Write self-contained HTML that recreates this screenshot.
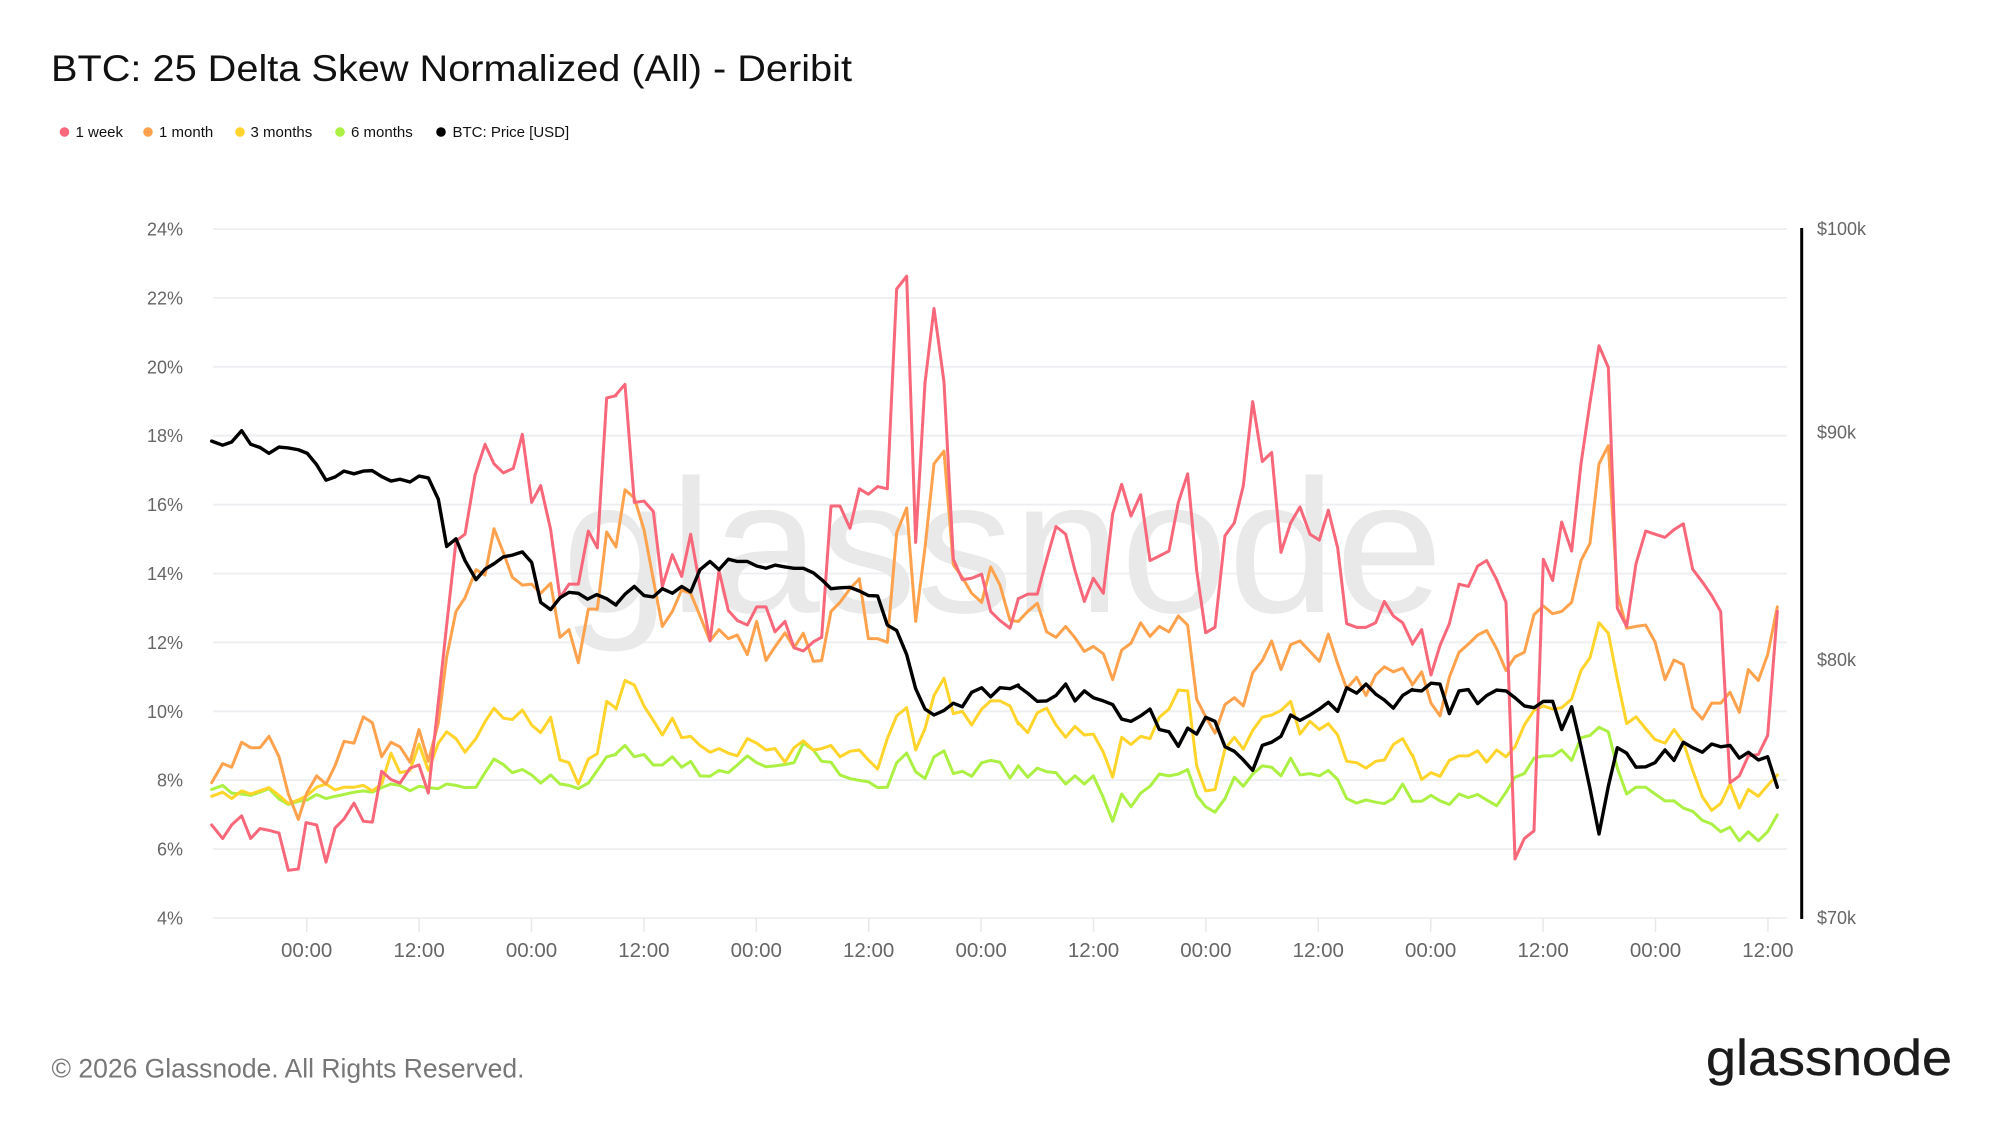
<!DOCTYPE html>
<html><head><meta charset="utf-8"><style>
html,body{margin:0;padding:0;background:#fff;width:2000px;height:1125px;overflow:hidden}
svg{display:block}
text{font-family:"Liberation Sans",Arial,sans-serif}
.s{fill:none;stroke-linejoin:round;stroke-linecap:round}
.r{stroke:#f8677a;stroke-width:3}
.o{stroke:#ffa24d;stroke-width:3}
.y{stroke:#ffd42b;stroke-width:3}
.g{stroke:#abf043;stroke-width:3}
.k{stroke:#000;stroke-width:3.4}
</style></head><body>
<svg width="2000" height="1125" viewBox="0 0 2000 1125" xmlns="http://www.w3.org/2000/svg">
<text x="51" y="81" font-size="37" fill="#111" textLength="801" lengthAdjust="spacingAndGlyphs">BTC: 25 Delta Skew Normalized (All) - Deribit</text>
<g font-size="15" fill="#111">
<circle cx="64.5" cy="132" r="4.8" fill="#f8677a"/><text x="75.5" y="137">1 week</text>
<circle cx="148" cy="132" r="4.8" fill="#ffa24d"/><text x="159" y="137">1 month</text>
<circle cx="240" cy="132" r="4.8" fill="#ffd42b"/><text x="250.5" y="137">3 months</text>
<circle cx="340" cy="132" r="4.8" fill="#abf043"/><text x="351" y="137">6 months</text>
<circle cx="441" cy="132" r="4.8" fill="#000"/><text x="452.5" y="137">BTC: Price [USD]</text>
</g>
<g stroke="#eceef1" stroke-width="1.8">
<line x1="213" x2="1787" y1="229" y2="229"/><line x1="213" x2="1787" y1="297.9" y2="297.9"/><line x1="213" x2="1787" y1="366.8" y2="366.8"/><line x1="213" x2="1787" y1="435.7" y2="435.7"/><line x1="213" x2="1787" y1="504.6" y2="504.6"/><line x1="213" x2="1787" y1="573.5" y2="573.5"/><line x1="213" x2="1787" y1="642.4" y2="642.4"/><line x1="213" x2="1787" y1="711.3" y2="711.3"/><line x1="213" x2="1787" y1="780.2" y2="780.2"/><line x1="213" x2="1787" y1="849.1" y2="849.1"/><line x1="213" x2="1787" y1="918" y2="918"/>
</g>
<g stroke="#e6e8eb" stroke-width="1.5">
<line x1="306.7" x2="306.7" y1="918" y2="932"/><line x1="419.1" x2="419.1" y1="918" y2="932"/><line x1="531.5" x2="531.5" y1="918" y2="932"/><line x1="643.9" x2="643.9" y1="918" y2="932"/><line x1="756.3" x2="756.3" y1="918" y2="932"/><line x1="868.7" x2="868.7" y1="918" y2="932"/><line x1="981.1" x2="981.1" y1="918" y2="932"/><line x1="1093.5" x2="1093.5" y1="918" y2="932"/><line x1="1205.9" x2="1205.9" y1="918" y2="932"/><line x1="1318.3" x2="1318.3" y1="918" y2="932"/><line x1="1430.7" x2="1430.7" y1="918" y2="932"/><line x1="1543.1" x2="1543.1" y1="918" y2="932"/><line x1="1655.5" x2="1655.5" y1="918" y2="932"/><line x1="1767.9" x2="1767.9" y1="918" y2="932"/>
</g>
<g font-size="18" fill="#666" text-anchor="end">
<text x="183" y="235.5">24%</text><text x="183" y="304.4">22%</text><text x="183" y="373.3">20%</text><text x="183" y="442.2">18%</text><text x="183" y="511.1">16%</text><text x="183" y="580">14%</text><text x="183" y="648.9">12%</text><text x="183" y="717.8">10%</text><text x="183" y="786.7">8%</text><text x="183" y="855.6">6%</text><text x="183" y="924.5">4%</text>
</g>
<g font-size="20.5" fill="#666" text-anchor="middle">
<text x="306.7" y="957">00:00</text><text x="419.1" y="957">12:00</text><text x="531.5" y="957">00:00</text><text x="643.9" y="957">12:00</text><text x="756.3" y="957">00:00</text><text x="868.7" y="957">12:00</text><text x="981.1" y="957">00:00</text><text x="1093.5" y="957">12:00</text><text x="1205.9" y="957">00:00</text><text x="1318.3" y="957">12:00</text><text x="1430.7" y="957">00:00</text><text x="1543.1" y="957">12:00</text><text x="1655.5" y="957">00:00</text><text x="1767.9" y="957">12:00</text>
</g>
<line x1="1801.7" x2="1801.7" y1="228" y2="919" stroke="#000" stroke-width="3"/>
<g font-size="18" fill="#666">
<text x="1817" y="235">$100k</text><text x="1817" y="438.5">$90k</text><text x="1817" y="666">$80k</text><text x="1817" y="924">$70k</text>
</g>
<text x="562" y="612" font-size="190" fill="#e9e9e9" textLength="881" lengthAdjust="spacingAndGlyphs">glassnode</text>

<g class="s g">
<polyline vector-effect="non-scaling-stroke" transform="translate(200,220.82) scale(0.333333,0.4542)" points="35,1252 68,1243 95,1260 125,1262 152,1265 180,1258 207,1250 237,1273 265,1285 295,1278 322,1275 350,1263 378,1272 405,1267 432,1263 462,1258 490,1255 517,1258 545,1248 573,1240 600,1243 630,1255 657,1245 685,1248 715,1250 740,1240 768,1243 795,1248 828,1247 855,1215 882,1185 910,1197 937,1215 967,1208 995,1220 1022,1238 1052,1220 1080,1240 1107,1243 1135,1250 1165,1238 1192,1210 1220,1180 1248,1175"/>
<polyline vector-effect="non-scaling-stroke" transform="translate(600,220.82) scale(0.333333,0.4542)" points="48,1173 75,1155 103,1180 132,1175 160,1198 187,1198 217,1180 245,1203 272,1190 300,1222 330,1223 357,1210 385,1215 412,1198 442,1178 470,1193 498,1202 525,1200 555,1197 582,1193 610,1150 640,1165 665,1190 693,1192 720,1220 750,1228 778,1232 805,1235 833,1248 862,1247 890,1193 920,1172 947,1213 975,1228 1002,1180 1032,1167 1060,1217 1087,1212 1115,1223 1145,1193 1172,1188 1200,1192 1230,1227 1255,1200"/>
<polyline vector-effect="non-scaling-stroke" transform="translate(1000,220.82) scale(0.333333,0.4542)" points="55,1200 83,1225 112,1205 140,1213 168,1215 197,1240 225,1222 253,1240 280,1222 310,1270 338,1322 365,1262 393,1290 422,1260 450,1245 478,1218 507,1222 535,1218 563,1208 590,1265 617,1290 645,1302 675,1272 703,1225 730,1245 758,1218 787,1200 815,1203 843,1222 872,1183 900,1220 930,1217 958,1222 985,1210 1013,1230 1040,1272 1070,1282 1098,1275 1127,1280 1153,1283 1180,1272 1208,1240 1237,1278"/>
<polyline vector-effect="non-scaling-stroke" transform="translate(1400,220.82) scale(0.333333,0.4542)" points="37,1278 65,1278 93,1265 120,1277 148,1285 177,1262 205,1270 233,1263 260,1275 290,1288 318,1258 345,1225 373,1217 402,1183 430,1178 458,1178 485,1165 515,1188 543,1138 570,1133 597,1115 625,1125 652,1205 680,1262 708,1247 737,1247 765,1262 795,1277 822,1277 850,1293 878,1300 907,1320 935,1328 962,1345 990,1335 1018,1365 1045,1345 1075,1365 1103,1345 1132,1308"/>
</g>

<g class="s y">
<polyline vector-effect="non-scaling-stroke" transform="translate(200,220.82) scale(0.333333,0.4542)" points="35,1267 68,1258 95,1272 125,1255 152,1262 180,1255 207,1248 237,1265 265,1283 295,1275 322,1265 350,1247 378,1240 405,1253 432,1247 462,1247 490,1243 517,1255 545,1240 573,1172 600,1215 630,1210 657,1152 685,1210 715,1150 740,1125 768,1140 795,1170 828,1140 855,1103 882,1073 910,1095 937,1098 967,1077 995,1110 1022,1127 1052,1093 1080,1187 1107,1193 1135,1240 1165,1185 1192,1173 1220,1058 1248,1073"/>
<polyline vector-effect="non-scaling-stroke" transform="translate(600,220.82) scale(0.333333,0.4542)" points="48,1075 75,1012 103,1022 132,1068 160,1100 187,1132 217,1095 245,1138 272,1135 300,1155 330,1170 357,1162 385,1172 412,1178 442,1140 470,1150 498,1165 525,1162 555,1192 582,1160 610,1145 640,1165 665,1162 693,1155 720,1180 750,1168 778,1165 805,1187 833,1207 862,1140 890,1090 920,1072 947,1165 975,1118 1002,1045 1032,1007 1060,1085 1087,1080 1115,1110 1145,1075 1172,1057 1200,1057 1230,1068 1255,1108"/>
<polyline vector-effect="non-scaling-stroke" transform="translate(1000,220.82) scale(0.333333,0.4542)" points="55,1105 83,1127 112,1083 140,1073 168,1110 197,1137 225,1113 253,1132 280,1130 310,1170 338,1225 365,1137 393,1153 422,1135 450,1140 478,1093 507,1075 535,1033 563,1035 590,1200 617,1255 645,1252 675,1163 703,1137 730,1163 758,1122 787,1093 815,1088 843,1078 872,1058 900,1130 930,1102 958,1120 985,1107 1013,1132 1040,1190 1070,1193 1098,1205 1127,1190 1153,1187 1180,1153 1208,1140 1237,1178"/>
<polyline vector-effect="non-scaling-stroke" transform="translate(1400,220.82) scale(0.333333,0.4542)" points="37,1175 65,1230 93,1215 120,1223 148,1188 177,1178 205,1178 233,1167 260,1192 290,1165 318,1180 345,1158 373,1110 402,1078 430,1068 458,1075 485,1072 515,1053 543,990 570,962 597,885 625,908 652,1010 680,1107 708,1092 737,1118 765,1142 795,1150 822,1120 850,1148 878,1210 907,1268 935,1298 962,1283 990,1240 1018,1293 1045,1252 1075,1267 1103,1243 1132,1220"/>
</g>

<g class="s o">
<polyline vector-effect="non-scaling-stroke" transform="translate(200,220.82) scale(0.333333,0.4542)" points="35,1237 68,1195 95,1203 125,1148 152,1160 180,1160 207,1135 237,1180 265,1262 295,1318 320,1260 350,1222 378,1240 405,1200 432,1146 462,1150 490,1092 517,1105 545,1180 573,1148 600,1158 630,1192 657,1120 685,1190 715,1105 740,960 768,860 795,830 828,768 855,780 882,678 910,730 937,785 967,802 995,800 1022,820 1052,798 1080,917 1107,900 1135,973 1165,855 1192,855 1220,685 1248,718"/>
<polyline vector-effect="non-scaling-stroke" transform="translate(600,220.82) scale(0.333333,0.4542)" points="48,717 75,592 103,610 132,680 160,790 187,893 217,860 245,813 272,820 300,870 330,925 357,900 385,920 412,912 442,955 470,882 498,968 525,938 555,907 582,940 610,908 640,970 665,968 693,860 720,840 750,810 778,788 805,920 833,920 862,928 890,687 920,632 947,882 975,720 1002,535 1032,507 1060,757 1087,785 1115,820 1145,840 1172,762 1200,802 1230,880 1255,882"/>
<polyline vector-effect="non-scaling-stroke" transform="translate(1000,220.82) scale(0.333333,0.4542)" points="55,882 83,860 112,842 140,905 168,917 197,893 225,918 253,948 280,937 310,953 338,1010 365,945 393,930 422,885 450,915 478,893 507,905 535,870 563,890 590,1053 617,1092 645,1128 675,1065 703,1050 730,1068 758,995 787,968 815,925 843,988 872,933 900,925 930,948 958,970 985,910 1013,975 1040,1030 1070,1005 1098,1045 1127,1000 1153,982 1180,993 1208,985 1237,1020"/>
<polyline vector-effect="non-scaling-stroke" transform="translate(1400,220.82) scale(0.333333,0.4542)" points="37,1022 65,993 93,1062 120,1090 148,1005 177,950 205,932 233,912 260,902 290,942 318,990 345,960 373,950 402,867 430,848 458,865 485,860 515,840 543,748 570,710 597,535 625,495 652,820 680,897 708,893 737,890 765,927 795,1010 822,967 850,977 878,1073 907,1097 935,1062 962,1062 990,1038 1018,1082 1045,988 1075,1012 1103,955 1132,850"/>
</g>

<g class="s r">
<polyline vector-effect="non-scaling-stroke" transform="translate(200,220.82) scale(0.333333,0.4542)" points="35,1330 68,1360 95,1330 125,1310 152,1360 180,1338 207,1342 237,1348 265,1430 295,1427 318,1325 350,1330 378,1412 405,1337 432,1317 462,1282 490,1322 517,1324 545,1212 573,1230 600,1238 630,1205 657,1198 685,1260 712,1080 740,890 768,705 795,690 825,560 855,492 882,535 910,555 940,545 967,470 995,620 1022,583 1052,680 1080,830 1107,800 1135,800 1165,683 1192,720 1220,390 1248,385"/>
<polyline vector-effect="non-scaling-stroke" transform="translate(600,220.82) scale(0.333333,0.4542)" points="48,383 75,360 103,620 132,617 160,640 187,805 217,735 245,783 272,690 300,805 330,925 357,770 385,858 412,880 442,890 470,850 498,850 525,905 555,882 582,940 610,947 640,927 665,917 693,628 720,628 750,677 778,590 805,602 833,585 862,590 890,150 920,122 947,708 975,357 1002,193 1032,355 1060,745 1087,790 1115,787 1145,778 1172,860 1200,880 1230,897 1255,832"/>
<polyline vector-effect="non-scaling-stroke" transform="translate(1000,220.82) scale(0.333333,0.4542)" points="55,832 83,822 112,822 140,745 168,673 197,690 225,770 253,838 280,787 310,820 338,645 365,580 393,650 422,603 450,748 478,738 507,727 535,620 563,557 590,770 617,907 645,895 675,693 703,665 730,583 758,398 787,530 815,510 843,730 872,665 900,630 930,690 958,703 985,637 1013,720 1040,887 1070,895 1098,895 1127,885 1153,838 1180,870 1208,885 1237,930"/>
<polyline vector-effect="non-scaling-stroke" transform="translate(1400,220.82) scale(0.333333,0.4542)" points="37,932 65,900 93,1000 120,935 148,887 177,800 205,805 233,760 260,748 290,790 318,840 345,1405 373,1360 402,1343 430,745 458,792 485,663 515,727 543,535 570,400 597,275 625,323 652,853 680,893 708,755 737,683 765,690 795,697 822,680 850,667 878,767 907,795 935,825 962,860 990,1237 1018,1222 1045,1178 1075,1175 1103,1133 1132,860"/>
</g>

<g class="s k">
<polyline vector-effect="non-scaling-stroke" transform="translate(200,220.82) scale(0.333333,0.4542)" points="35,485 68,494 95,487 125,462 152,492 180,499 207,512 237,498 265,500 295,504 322,512 350,537 378,571 405,564 432,551 462,557 490,551 517,550 545,563 573,573 600,569 630,575 657,562 685,566 715,613 740,717 768,700 795,748 828,790 855,767 882,755 910,740 937,736 967,729 995,752 1022,840 1052,856 1080,830 1107,818 1135,820 1163,833 1190,823 1220,832 1248,846"/>
<polyline vector-effect="non-scaling-stroke" transform="translate(600,220.82) scale(0.333333,0.4542)" points="48,845 75,822 103,805 132,825 160,828 187,810 217,820 245,805 272,817 300,768 330,750 357,768 385,745 412,750 442,750 470,760 498,765 525,758 555,762 582,765 610,765 640,775 665,790 693,810 720,808 750,807 778,815 805,825 833,826 862,890 890,902 920,955 947,1030 975,1075 1002,1088 1032,1078 1060,1062 1087,1070 1115,1038 1145,1028 1172,1048 1200,1028 1230,1030 1255,1022"/>
<polyline vector-effect="non-scaling-stroke" transform="translate(1000,220.82) scale(0.333333,0.4542)" points="55,1025 83,1040 112,1058 140,1057 168,1045 197,1020 225,1057 253,1035 280,1050 310,1057 338,1065 365,1097 393,1102 422,1090 450,1075 478,1120 507,1125 535,1157 563,1117 590,1130 617,1093 645,1102 675,1158 703,1168 730,1187 758,1210 787,1155 815,1148 843,1135 872,1088 900,1100 930,1088 958,1075 985,1060 1013,1080 1040,1028 1070,1040 1098,1020 1127,1042 1153,1055 1180,1073 1208,1045 1237,1032"/>
<polyline vector-effect="non-scaling-stroke" transform="translate(1400,220.82) scale(0.333333,0.4542)" points="37,1033 65,1035 93,1018 120,1020 148,1085 177,1035 205,1032 233,1063 260,1045 290,1033 318,1035 345,1050 373,1068 402,1072 430,1058 458,1058 485,1120 515,1070 543,1157 570,1250 597,1350 625,1245 652,1160 680,1172 708,1203 737,1202 765,1193 795,1165 822,1188 850,1148 878,1160 907,1170 935,1152 962,1158 990,1155 1018,1183 1045,1170 1075,1187 1103,1180 1132,1247"/>
</g>

<text x="51.5" y="1077.5" font-size="26.5" fill="#777" textLength="473" lengthAdjust="spacingAndGlyphs">© 2026 Glassnode. All Rights Reserved.</text>
<text x="1706" y="1075" font-size="50" fill="#1b1b1b" stroke="#1b1b1b" stroke-width="0.4" textLength="246" lengthAdjust="spacingAndGlyphs">glassnode</text>
</svg>
</body></html>
